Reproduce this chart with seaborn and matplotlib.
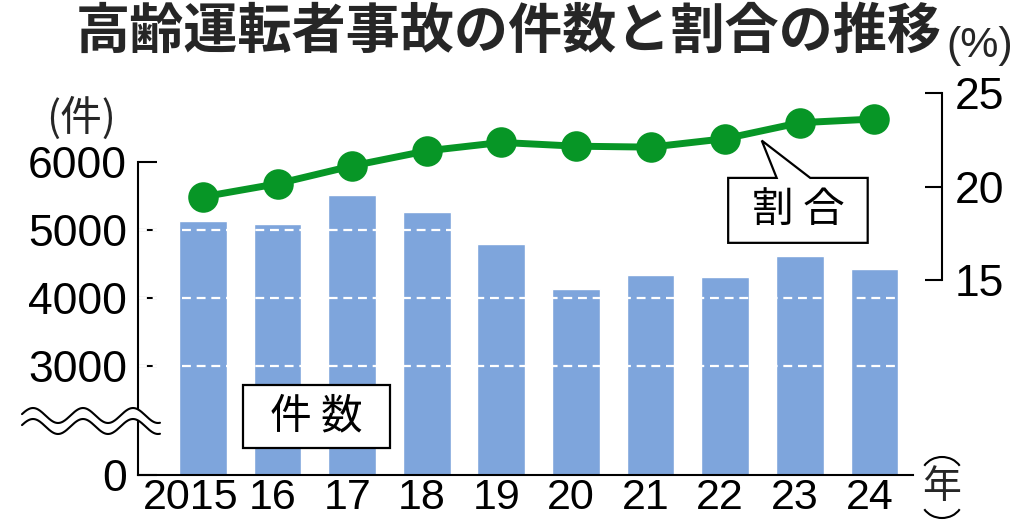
import numpy as np
import matplotlib
matplotlib.use("Agg")
import matplotlib.pyplot as plt
import seaborn as sns
from matplotlib.patches import Polygon, Rectangle, Arc
from matplotlib.transforms import IdentityTransform, ScaledTranslation

# data
years = ["2015", "16", "17", "18", "19", "20", "21", "22", "23", "24"]
counts = [5140, 5085, 5515, 5270, 4790, 4130, 4345, 4310, 4625, 4425]
ratios = [19.45, 20.15, 21.1, 21.9, 22.35, 22.15, 22.1, 22.55, 23.4, 23.6]
count_ticks = [0, 3000, 4000, 5000, 6000]
ratio_ticks = [15, 20, 25]

BAR = "#7ea5dc"
GREEN = "#079626"
JP = ["Noto Sans CJK JP", "DejaVu Sans"]

sns.set_theme(style="white")
plt.rcParams["font.family"] = ["Liberation Sans", "Noto Sans CJK JP"]

W, H = 1024, 532
fig = plt.figure(figsize=(W / 100, H / 100), dpi=100)
ax = fig.add_axes([138 / W, 57 / H, (942 - 138) / W, (475 - 92.7) / H])

# bars
sns.barplot(x=years, y=counts, ax=ax, color=BAR, saturation=1, width=0.64,
            errorbar=None, zorder=1)

# broken axis: 0-3000 squeezed into the bottom band
CUT, SHIFT = 3000, 1400


def fwd(v):
    v = np.asarray(v, float)
    return np.where(v >= CUT, v - SHIFT, v * (CUT - SHIFT) / CUT)


def inv(d):
    d = np.asarray(d, float)
    return np.where(d >= CUT - SHIFT, d + SHIFT, d * CUT / (CUT - SHIFT))


ax.set_yscale("function", functions=(fwd, inv))
ax.set_ylim(0, 7020)
ax.set_yticks(count_ticks)
ax.set_yticklabels([str(t) for t in count_ticks])
ax.set_xlabel("")
ax.set_ylabel("")

# white dashed guides inside bars
for lvl in count_ticks[1:-1]:
    ax.axhline(lvl, color="white", lw=1.6, ls=(0, (4, 2.6)), zorder=1.5)

for s in ["top", "right"]:
    ax.spines[s].set_visible(False)
for s in ["left", "bottom"]:
    ax.spines[s].set_color("black")
    ax.spines[s].set_linewidth(1.5)
ax.spines["left"].set_bounds(0, 6000)
ax.spines["bottom"].set_bounds(-0.87, 9.52)
ax.tick_params(axis="y", direction="in", length=13.5, width=1.5,
               labelsize=32, pad=8, colors="black", left=True)
ax.tick_params(axis="x", length=0, pad=2.5, labelsize=31, colors="black")

# nudge year labels a little to the left, as in the print
for i, lab in enumerate(ax.get_xticklabels()):
    dx = -12 if i == 0 else -5
    lab.set_transform(lab.get_transform() +
                      ScaledTranslation(dx / 100, 0, fig.dpi_scale_trans))

# ratio line on right axis
ax2 = ax.twinx()
sns.lineplot(x=np.arange(len(years)), y=ratios, ax=ax2, color=GREEN, lw=5,
             marker="o", markersize=22, markeredgewidth=0, zorder=3)
ax2.set_ylim(4.63, 25)
ax2.set_yticks(ratio_ticks)
ax2.set_yticklabels([str(t) for t in ratio_ticks])
ax2.set_ylabel("")
for s in ["top", "left", "bottom"]:
    ax2.spines[s].set_visible(False)
ax2.spines["right"].set_color("black")
ax2.spines["right"].set_linewidth(1.5)
ax2.spines["right"].set_bounds(15, 25)
ax2.tick_params(axis="y", direction="in", length=12, width=1.5,
                labelsize=32, pad=9, colors="black", right=True)
ax.set_xlim(-0.87, 9.906)

# callout for the ratio line
bubble = Polygon([(7.04, 17.0), (8.91, 17.0), (8.91, 20.46), (8.14, 20.46),
                  (7.49, 22.45), (7.69, 20.46), (7.04, 20.46)],
                 closed=True, facecolor="white", edgecolor="black", lw=1.6,
                 zorder=2)
ax2.add_patch(bubble)
ax2.text(7.975, 18.73, "割 合", ha="center", va="center", fontsize=30,
         family=JP, color="black", zorder=4)

# label box for the bars
ax2.add_patch(Rectangle((0.536, 6.05), 2.507 - 0.536, 9.4 - 6.05,
                        facecolor="white", edgecolor="black", lw=1.6,
                        zorder=2))
ax2.text(1.52, 7.73, "件 数", ha="center", va="center", fontsize=30,
         family=JP, color="black", zorder=4)

# wavy axis break
xs = np.linspace(22, 160, 300)
wave = 7.5 * np.cos(2 * np.pi * (xs - 33) / 50)
up = 415.5 - wave
lo = 426.5 - wave
fx = xs / W
ax.fill_between(fx, 1 - up / H, 1 - lo / H, color="white", lw=0,
                transform=fig.transFigure, clip_on=False, zorder=5)
for yy in (up, lo):
    ax.plot(fx, 1 - yy / H, color="black", lw=1.5,
            transform=fig.transFigure, clip_on=False, zorder=6)

# titles and units
fig.text(509 / W, 1 - 32 / H, "高齢運転者事故の件数と割合の推移", ha="center",
         va="center", fontsize=39, fontweight="bold", family=JP)
fig.text(81 / W, 1 - 118 / H, "(件)", ha="center", va="center",
         fontsize=30, family=JP)
fig.text(980 / W, 1 - 46 / H, "(%)", ha="center", va="center",
         fontsize=31, family=["Liberation Sans", "Noto Sans CJK JP"])
fig.text(942 / W, 1 - 487 / H, "年", ha="center", va="center",
         fontsize=28, family=JP)
# vertical brackets around 年 (pixel coordinates)
for cy, t1, t2 in [(H - 476, 30, 150), (H - 499, 210, 330)]:
    fig.add_artist(Arc((942, cy), 42, 38, theta1=t1, theta2=t2,
                       color="black", lw=1.5, transform=IdentityTransform()))

fig.savefig("out.png", dpi=100, facecolor="white")
